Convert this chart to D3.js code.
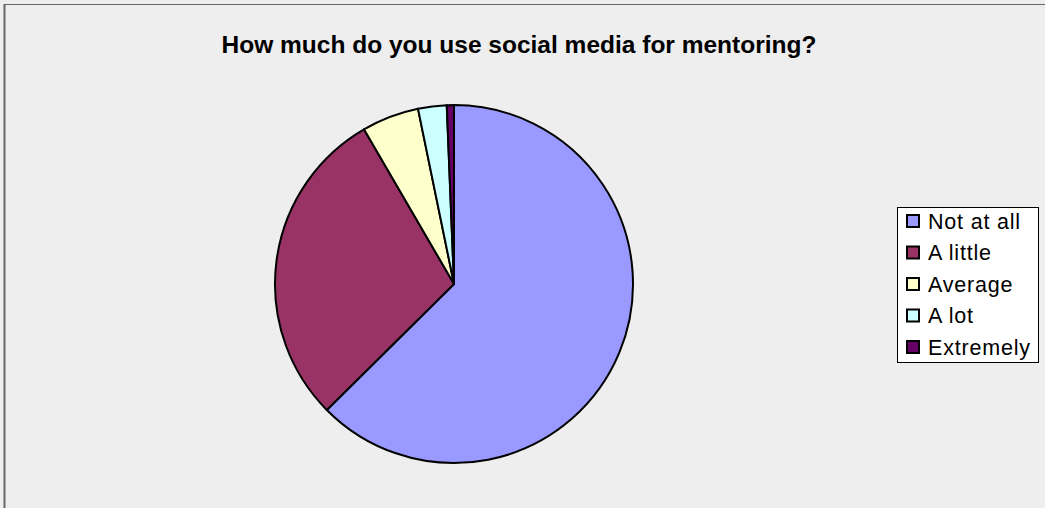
<!DOCTYPE html>
<html>
<head>
<meta charset="utf-8">
<script src="https://cdn.jsdelivr.net/npm/d3@7"></script>
<style>
  html, body { margin: 0; padding: 0; background: #eeeeee; }
  svg { display: block; }
  text { font-family: "Liberation Sans", Arial, sans-serif; }
</style>
</head>
<body>
<svg id="chart" width="1045" height="508"></svg>
<script>
// Survey responses
const categories = ["Not at all", "A little", "Average", "A lot", "Extremely"];
const counts = [97, 45, 8, 4, 1];
const colors = ["#9999ff", "#993366", "#ffffcc", "#ccffff", "#660066"];
const title = "How much do you use social media for mentoring?";

const width = 1045, height = 508;
const svg = d3.select("#chart");

// Background and frame
svg.append("rect").attr("x", 0).attr("y", 0).attr("width", width).attr("height", height).attr("fill", "#eeeeee");
svg.append("line").attr("x1", 4.5).attr("y1", 4).attr("x2", 4.5).attr("y2", height).attr("stroke", "#666").attr("stroke-width", 2);
svg.append("line").attr("x1", 4).attr("y1", 4.5).attr("x2", width).attr("y2", 4.5).attr("stroke", "#666").attr("stroke-width", 1);

// Title
svg.append("text")
  .attr("x", 519).attr("y", 53)
  .attr("text-anchor", "middle")
  .attr("font-size", 24.5)
  .attr("font-weight", "bold")
  .attr("fill", "#000")
  .text(title);

// Pie
const cx = 454, cy = 284, r = 179;
const pie = d3.pie().sort(null).value(d => d.v);
const arc = d3.arc().innerRadius(0).outerRadius(r);
const data = categories.map((c, i) => ({ c, v: counts[i], col: colors[i] }));

const g = svg.append("g").attr("transform", `translate(${cx},${cy})`);
g.selectAll("path")
  .data(pie(data))
  .join("path")
  .attr("d", arc)
  .attr("fill", d => d.data.col)
  .attr("stroke", "#000")
  .attr("stroke-width", 2)
  .attr("stroke-linejoin", "round");

// Legend
const lx = 897.5, ly = 207.5, lw = 141, lh = 155;
svg.append("rect").attr("x", lx).attr("y", ly).attr("width", lw).attr("height", lh)
  .attr("fill", "#ffffff").attr("stroke", "#000").attr("stroke-width", 1);

const step = 31.5;
const items = svg.append("g").selectAll("g")
  .data(data)
  .join("g")
  .attr("transform", (d, i) => `translate(${lx + 9.5}, ${ly + 13.5 + i * step})`);

items.append("rect")
  .attr("x", 0).attr("y", -6).attr("width", 12).attr("height", 12)
  .attr("fill", d => d.col).attr("stroke", "#000").attr("stroke-width", 2);

items.append("text")
  .attr("x", 21).attr("y", 7.5)
  .attr("font-size", 21.5)
  .attr("letter-spacing", 0.8)
  .attr("fill", "#000")
  .text(d => d.c);
</script>
</body>
</html>
